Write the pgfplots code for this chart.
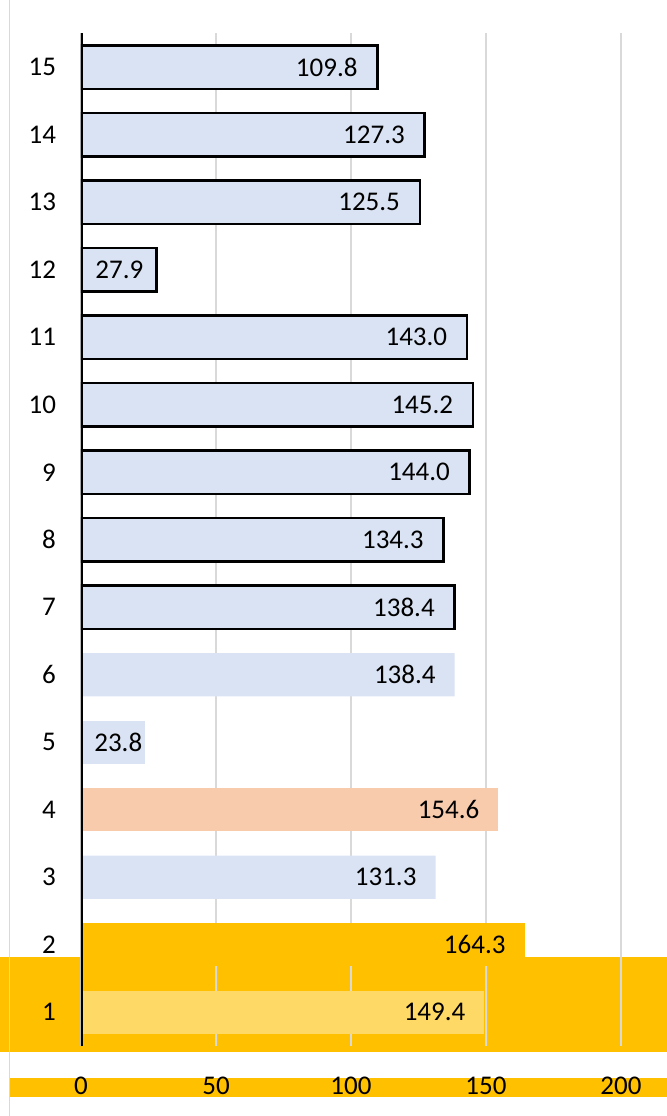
\documentclass[border=0pt]{standalone}
\usepackage{fontspec}
\setmainfont{Carlito}
\usepackage{pgfplots}
\pgfplotsset{compat=1.18}

\definecolor{barblue}{HTML}{DAE3F3}
\definecolor{barpeach}{HTML}{F8CBAD}
\definecolor{bargold}{HTML}{FFC000}
\definecolor{barlightgold}{HTML}{FFD966}
\definecolor{gridgray}{HTML}{D9D9D9}

\begin{document}
% 1 unit = 1 px of the 667 x 1116 canvas, measured from the bottom-left corner
\begin{tikzpicture}[x=0.5pt,y=0.5pt]
  \useasboundingbox (0,0) rectangle (667,1116);
  % highlight bands behind the first row and the value scale
  \fill[bargold] (0,64) rectangle (667,159);
  \fill[bargold] (9,19) rectangle (667,38);
  % chart area border
  \draw[gridgray, line width=0.5pt] (9.5,0) -- (9.5,1116);
  % lower-left corner of the plot area
  \coordinate (plotorigin) at (81,70);

  \begin{axis}[
    at={(plotorigin)}, anchor=south west,
    scale only axis, width=270pt, height=506.25pt,
    xmin=0, xmax=200, ymin=0.5, ymax=15.5,
    xtick={0,50,...,200}, ytick={1,...,15},
    xmajorgrids, major grid style={gridgray, line width=0.75pt},
    axis line style={draw=none}, tick style={draw=none},
    major tick length=0pt,
    /pgf/number format/assume math mode=true,
    tick label style={font=\fontsize{13.5}{15}\selectfont, text=black},
    yticklabel style={xshift=-9pt},
    xticklabel style={yshift=-12pt},
    bar width=0.64,
    nodes near coords={\pgfmathprintnumber[fixed,fixed zerofill,precision=1,assume math mode=true]{\pgfplotspointmeta}},
    point meta=explicit,
    every node near coord/.append style={anchor=east, xshift=-6pt, text=black,
      font=\fontsize{13.5}{15}\selectfont},
    outlined/.style={xbar, bar shift=0pt, fill=barblue, draw=black, line width=1.3pt},
    plain/.style={xbar, bar shift=0pt, draw=none},
  ]
    % rows 7-15, outlined
    \addplot[outlined]
      coordinates {(138.4,7)[138.4] (134.3,8)[134.3] (144.0,9)[144.0]
                   (145.2,10)[145.2] (143.0,11)[143.0]
                   (125.5,13)[125.5] (127.3,14)[127.3] (109.8,15)[109.8]};
    % row 12: short bar, label sits nearer its end
    \addplot[outlined, every node near coord/.append style={xshift=3.5pt}]
      coordinates {(27.9,12)[27.9]};
    % rows 3 and 6
    \addplot[plain, fill=barblue]
      coordinates {(131.3,3)[131.3] (138.4,6)[138.4]};
    % row 5: short bar, label reaches its end
    \addplot[plain, fill=barblue, every node near coord/.append style={xshift=8pt}]
      coordinates {(23.8,5)[23.8]};
    % row 4
    \addplot[plain, fill=barpeach]
      coordinates {(154.6,4)[154.6]};
    % row 2
    \addplot[plain, fill=bargold]
      coordinates {(164.3,2)[164.3]};
    % row 1
    \addplot[plain, fill=barlightgold]
      coordinates {(149.4,1)[149.4]};
    % category axis line
    \draw[black, line width=1.75pt] (axis cs:0,0.5) -- (axis cs:0,15.5);
  \end{axis}
\end{tikzpicture}
\end{document}
